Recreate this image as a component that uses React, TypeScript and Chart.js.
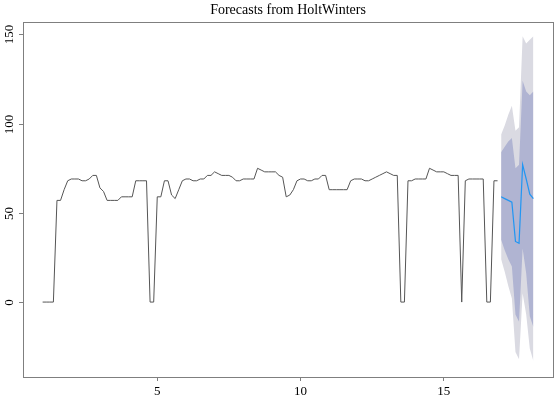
import React, { useEffect, useRef } from "react";
import { Chart, registerables } from "chart.js";

Chart.register(...registerables);

// Time series: starts at time 1, 8 observations per unit of time
const START = 1;
const FREQ = 8;
const seriesValues: number[] = [
  0, 0, 0, 0, 57, 57, 63, 68,
  69, 69, 69, 68, 68, 69, 71, 71,
  64, 62, 57, 57, 57, 57, 59, 59,
  59, 59, 68, 68, 68, 68, 0, 0,
  59, 59, 68, 68, 60, 58, 63, 68,
  69, 69, 68, 68, 69, 69, 71, 71,
  73, 72, 71, 71, 71, 70, 68, 68,
  69, 69, 69, 69, 75, 74, 73, 73,
  73, 73, 71, 70, 59, 60, 63, 68,
  69, 69, 68, 68, 69, 69, 71, 71,
  63, 63, 63, 63, 63, 63, 68, 69,
  69, 69, 68, 68, 69, 70, 71, 72,
  73, 72, 71, 71, 0, 0, 68, 68,
  69, 69, 69, 69, 75, 74, 73, 73,
  73, 72, 71, 71, 71, 0, 68, 69,
  69, 69, 69, 69, 0, 0, 68, 68,
];

// Forecasts (point forecast and prediction intervals)
const forecastMean: number[] = [59, 58, 57, 56, 34, 33, 77, 69, 60.5, 58];
const upper80: number[] = [84, 87, 90, 92, 75, 77, 124, 118, 116, 118];
const lower80: number[] = [35, 29, 24, 20, -7, -11, 30, 16, -8, -14];
const upper95: number[] = [94, 99, 105, 110, 96, 98, 149, 145, 147, 149];
const lower95: number[] = [24, 17, 9, 2, -28, -32, 5, -7, -26, -33];

const xTicks: number[] = [5, 10, 15];
const yTicks: number[] = [0, 50, 100, 150];
const titleText = "Forecasts from HoltWinters";

const FONT = "'Liberation Serif', 'DejaVu Serif', serif";
const AXIS_GREY = "#7f7f7f";

export default function App() {
  const canvasRef = useRef<HTMLCanvasElement | null>(null);

  useEffect(() => {
    document.body.style.margin = "0";
    const canvas = canvasRef.current;
    if (!canvas) return;

    const seriesPts = seriesValues.map((v, i) => ({ x: START + i / FREQ, y: v }));
    const fStart = START + seriesValues.length / FREQ;
    const fx = (i: number) => fStart + i / FREQ;
    const meanPts = forecastMean.map((v, i) => ({ x: fx(i), y: v }));
    const u80 = upper80.map((v, i) => ({ x: fx(i), y: v }));
    const l80 = lower80.map((v, i) => ({ x: fx(i), y: v }));
    const u95 = upper95.map((v, i) => ({ x: fx(i), y: v }));
    const l95 = lower95.map((v, i) => ({ x: fx(i), y: v }));

    const decor = {
      id: "rDecor",
      afterDraw(chart: any) {
        const ctx = chart.ctx;
        const a = chart.chartArea;
        const ys = chart.scales.y;
        ctx.save();
        // box
        ctx.strokeStyle = AXIS_GREY;
        ctx.lineWidth = 1;
        ctx.strokeRect(Math.round(a.left) + 0.5, Math.round(a.top) + 0.5,
          Math.round(a.right - a.left), Math.round(a.bottom - a.top));
        // y tick marks and rotated labels
        ctx.fillStyle = "#000";
        ctx.font = `13px ${FONT}`;
        yTicks.forEach((t) => {
          const py = Math.round(ys.getPixelForValue(t)) + 0.5;
          ctx.beginPath();
          ctx.moveTo(a.left, py);
          ctx.lineTo(a.left - 4, py);
          ctx.stroke();
          ctx.save();
          ctx.translate(10, py);
          ctx.rotate(-Math.PI / 2);
          ctx.textAlign = "center";
          ctx.textBaseline = "middle";
          ctx.fillText(String(t), 0, 0);
          ctx.restore();
        });
        // title
        ctx.font = `14px ${FONT}`;
        ctx.textAlign = "center";
        ctx.textBaseline = "middle";
        ctx.fillText(titleText, (a.left + a.right) / 2, 10);
        ctx.restore();
      },
    };

    const chart = new Chart(canvas, {
      type: "line",
      data: {
        datasets: [
          {
            label: "series",
            data: seriesPts,
            borderColor: "#555555",
            borderWidth: 1,
            pointRadius: 0,
            fill: false,
            order: 0,
          },
          {
            label: "forecast",
            data: meanPts,
            borderColor: "#2196f3",
            borderWidth: 1.2,
            pointRadius: 0,
            fill: false,
            order: 1,
          },
          {
            label: "upper80",
            data: u80,
            borderWidth: 0,
            pointRadius: 0,
            backgroundColor: "#b0b4d2",
            fill: 3,
            order: 2,
          },
          {
            label: "lower80",
            data: l80,
            borderWidth: 0,
            pointRadius: 0,
            fill: false,
            order: 3,
          },
          {
            label: "upper95",
            data: u95,
            borderWidth: 0,
            pointRadius: 0,
            backgroundColor: "#dadae2",
            fill: 5,
            order: 4,
          },
          {
            label: "lower95",
            data: l95,
            borderWidth: 0,
            pointRadius: 0,
            fill: false,
            order: 5,
          },
        ],
      },
      options: {
        animation: false,
        responsive: false,
        events: [],
        layout: { padding: { top: 22, right: 3, left: 0, bottom: 0 } },
        plugins: {
          legend: { display: false },
          tooltip: { enabled: false },
          title: { display: false },
        },
        scales: {
          x: {
            type: "linear",
            min: 0.315,
            max: 18.81,
            afterBuildTicks: (s: any) => {
              s.ticks = xTicks.map((v) => ({ value: v }));
            },
            afterFit: (s: any) => {
              s.height = 23;
            },
            grid: {
              display: true,
              drawOnChartArea: false,
              drawTicks: true,
              tickLength: 4,
              color: AXIS_GREY,
            },
            border: { display: false },
            ticks: {
              color: "#000",
              font: { family: FONT, size: 13 },
              padding: 3,
              maxRotation: 0,
              autoSkip: false,
            },
          },
          y: {
            type: "linear",
            min: -42,
            max: 157,
            afterBuildTicks: (s: any) => {
              s.ticks = yTicks.map((v) => ({ value: v }));
            },
            afterFit: (s: any) => {
              s.width = 23;
            },
            grid: { display: false },
            border: { display: false },
            ticks: { display: false },
          },
        },
      },
      plugins: [decor],
    });

    return () => chart.destroy();
  }, []);

  return (
    <canvas
      ref={canvasRef}
      width={556}
      height={400}
      style={{ display: "block", width: 556, height: 400 }}
    />
  );
}
